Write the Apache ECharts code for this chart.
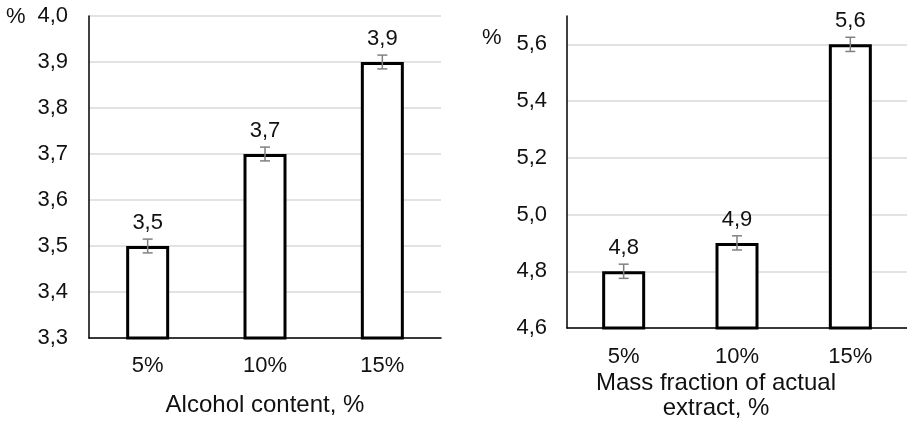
<!DOCTYPE html>
<html>
<head>
<meta charset="utf-8">
<script src="https://cdn.jsdelivr.net/npm/echarts@6/dist/echarts.min.js"></script>
<style>
html,body{margin:0;padding:0;background:#fff;}
#c{width:907px;height:421px;}
</style>
</head>
<body>
<div id="c"></div>
<script>
// Data
const categories = ['5%', '10%', '15%'];
const alcoholValues = [3.5, 3.7, 3.9];
const alcoholErrors = [0.015, 0.015, 0.015];
const extractValues = [4.8, 4.9, 5.6];
const extractErrors = [0.025, 0.025, 0.025];
const leftTitle = 'Alcohol content, %';
const rightTitle = 'Mass fraction of actual\nextract, %';
const unitLabel = '%';

const FONT = '"Liberation Sans", Arial, sans-serif';
const FS = 22;
const FT = 24;
const TXT = '#111';
const fmt = v => Number(v).toFixed(1).replace('.', ',');

function errRender(params, api) {
  const x = api.value(0), v = api.value(1), e = api.value(2);
  const t = api.coord([x, v + e]);
  const b = api.coord([x, v - e]);
  const hw = 5;
  const st = { stroke: '#808080', lineWidth: 1.5 };
  return {
    type: 'group',
    children: [
      { type: 'line', shape: { x1: t[0], y1: t[1], x2: b[0], y2: b[1] }, style: st },
      { type: 'line', shape: { x1: t[0] - hw, y1: t[1], x2: t[0] + hw, y2: t[1] }, style: st },
      { type: 'line', shape: { x1: b[0] - hw, y1: b[1], x2: b[0] + hw, y2: b[1] }, style: st }
    ]
  };
}

function xAx(gi, margin) {
  return {
    type: 'category', gridIndex: gi, data: categories,
    axisLine: { lineStyle: { color: '#000', width: 1.5 } },
    axisTick: { show: false },
    axisLabel: { color: TXT, fontSize: FS, fontFamily: FONT, margin: margin },
    splitLine: { show: false }
  };
}
function yAx(gi, min, max, interval, margin) {
  return {
    type: 'value', gridIndex: gi, min: min, max: max, interval: interval,
    axisLine: { show: true, lineStyle: { color: '#000', width: 1.5 } },
    axisTick: { show: false },
    axisLabel: { color: TXT, fontSize: FS, fontFamily: FONT, margin: margin, formatter: fmt,
      showMaxLabel: gi === 0 },
    splitLine: { show: true, showMaxLine: gi === 0, lineStyle: { color: '#d9d9d9', width: 1.5 } }
  };
}
function barSeries(gi, vals) {
  return {
    type: 'bar', xAxisIndex: gi, yAxisIndex: gi, data: vals, barWidth: 43,
    itemStyle: { color: '#fff', borderColor: '#000', borderWidth: 3 },
    label: { show: true, position: 'top', distance: 12, color: TXT, fontSize: FS, fontFamily: FONT,
      formatter: p => fmt(p.value) },
    z: 2
  };
}
function errSeries(gi, vals, errs) {
  return {
    type: 'custom', xAxisIndex: gi, yAxisIndex: gi,
    data: vals.map((v, i) => [i, v, errs[i]]),
    renderItem: errRender, z: 5, silent: true
  };
}

const chart = echarts.init(document.getElementById('c'), null, { renderer: 'canvas' });
chart.setOption({
  animation: false,
  backgroundColor: '#fff',
  grid: [
    { left: 89, top: 16, width: 352, height: 322 },
    { left: 567, top: 16, width: 343, height: 312 }
  ],
  xAxis: [xAx(0, 17), xAx(1, 18)],
  yAxis: [yAx(0, 3.3, 4.0, 0.1, 21), yAx(1, 4.6, 5.7, 0.2, 20)],
  series: [
    barSeries(0, alcoholValues), errSeries(0, alcoholValues, alcoholErrors),
    barSeries(1, extractValues), errSeries(1, extractValues, extractErrors)
  ],
  graphic: [
    { type: 'text', left: 6, top: 6, style: { text: unitLabel, fill: TXT, fontSize: FS, fontFamily: FONT } },
    { type: 'text', left: 482, top: 27, style: { text: unitLabel, fill: TXT, fontSize: FS, fontFamily: FONT } },
    { type: 'text', x: 265, y: 405, style: { text: leftTitle, fill: TXT, fontSize: FT, fontFamily: FONT,
      align: 'center', verticalAlign: 'middle' } },
    { type: 'text', x: 716, y: 396, style: { text: rightTitle, fill: TXT, fontSize: FT, fontFamily: FONT,
      align: 'center', verticalAlign: 'middle', lineHeight: 25 } }
  ]
});
</script>
</body>
</html>
